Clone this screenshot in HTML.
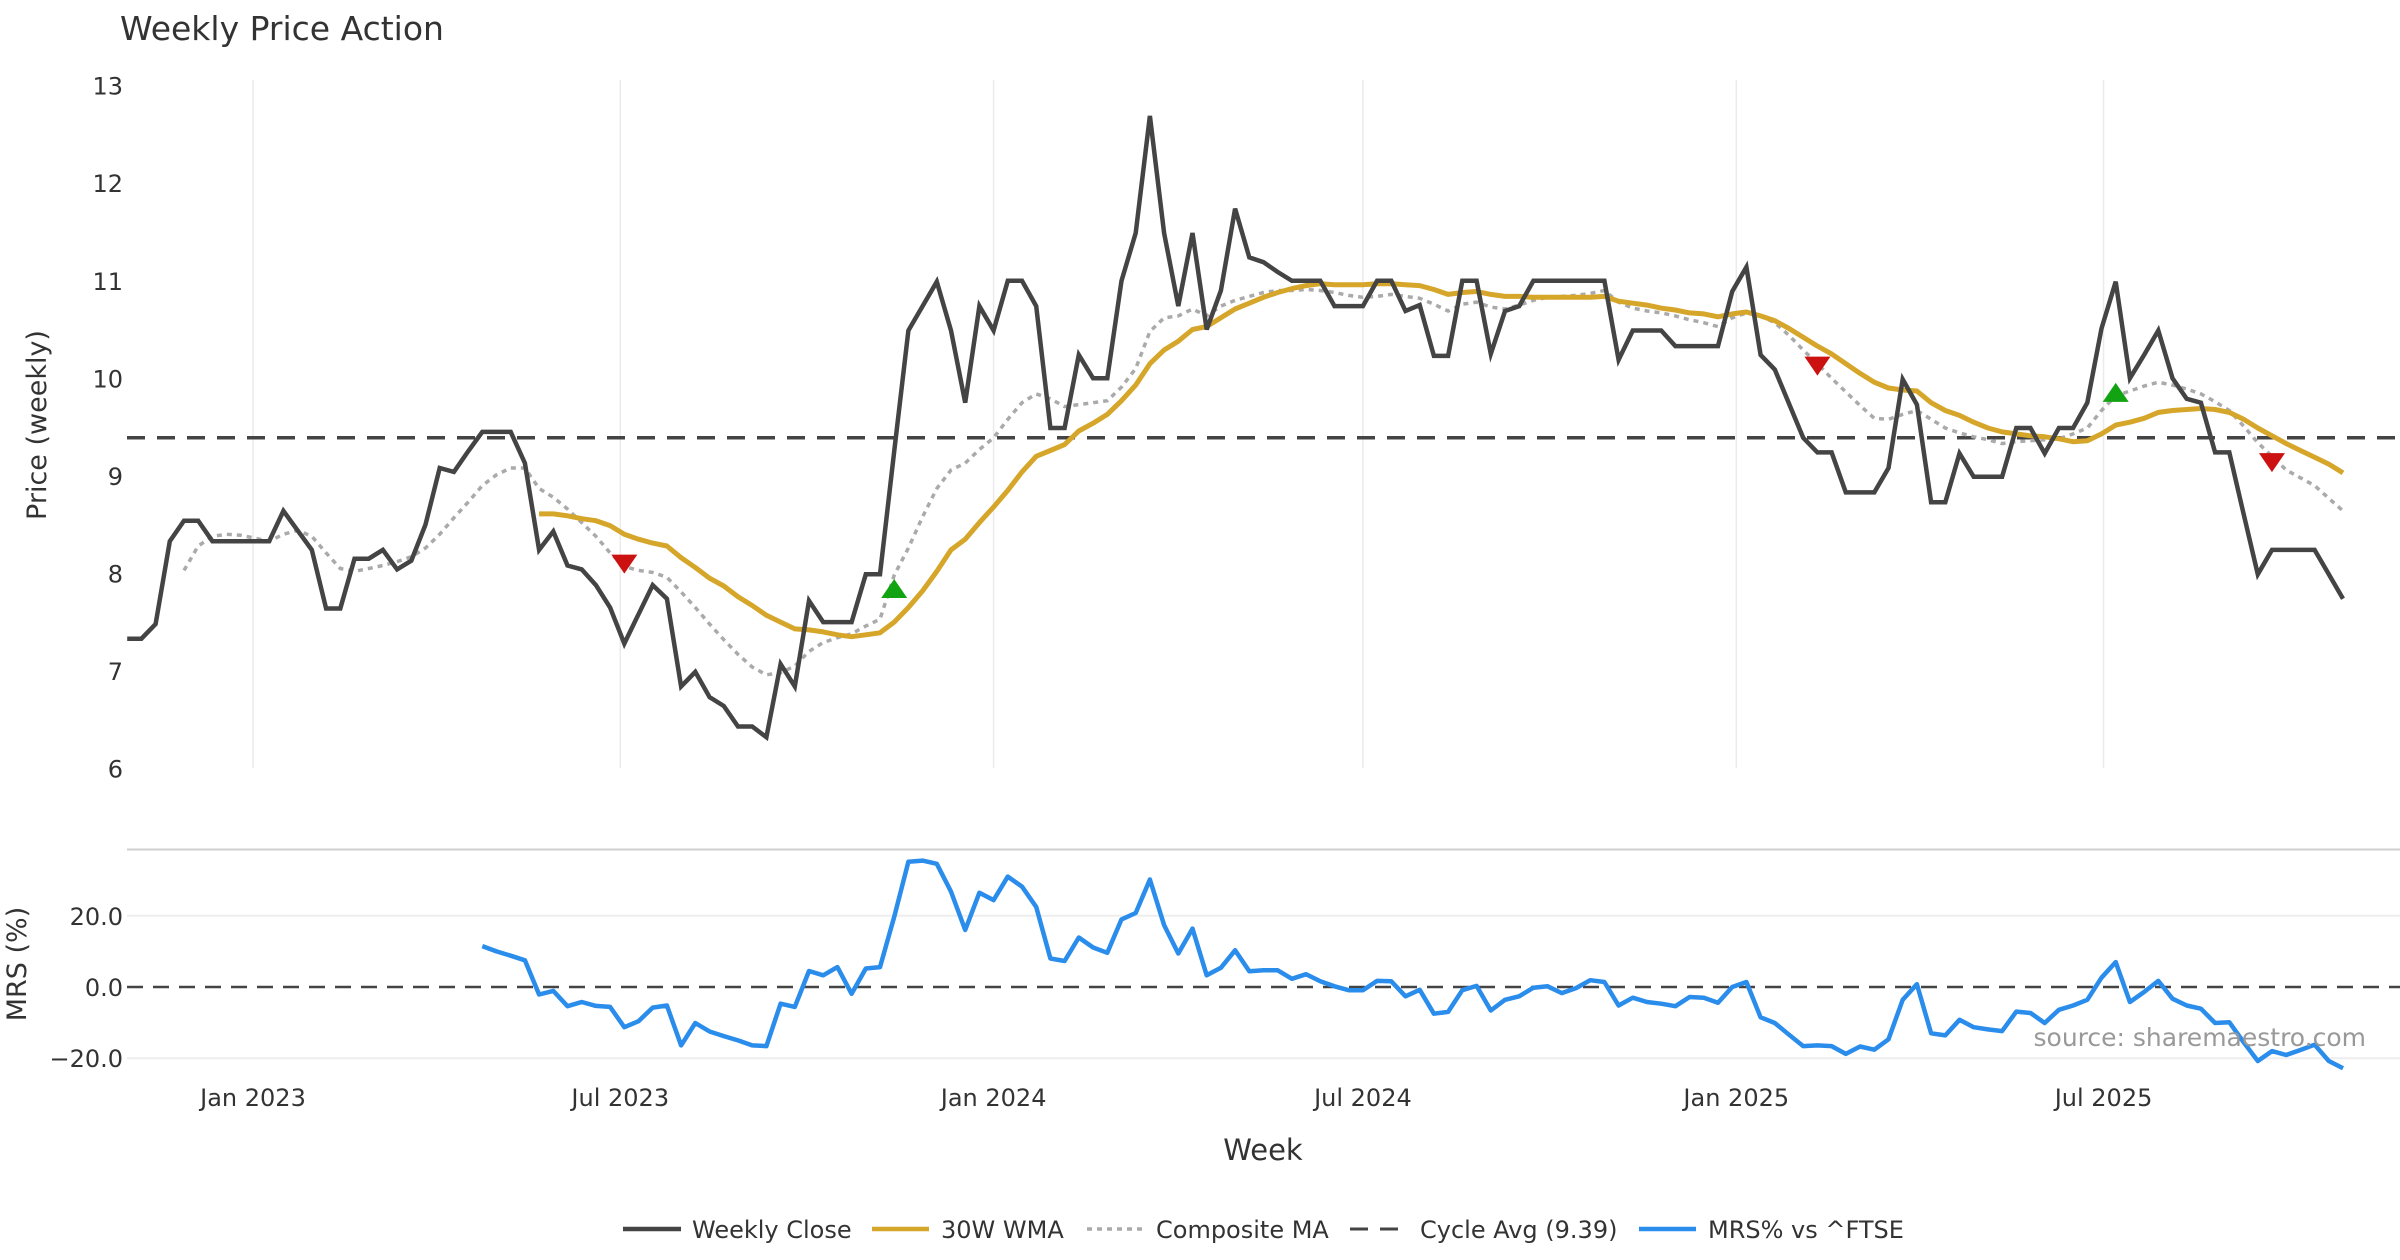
<!DOCTYPE html>
<html><head><meta charset="utf-8"><style>
html,body{margin:0;padding:0;background:#fff;}
svg{display:block;font-family:"DejaVu Sans","Liberation Sans",sans-serif;}
</style></head><body>
<svg id="chart" xmlns="http://www.w3.org/2000/svg" width="2400" height="1260" viewBox="0 0 2400 1260">
<rect width="2400" height="1260" fill="#fff"/>
<text x="120" y="40" font-size="33" fill="#333">Weekly Price Action</text>
<g id="grid"></g>
<g id="price"></g>
<g id="mrs"></g>
<g id="axes"></g>
<text x="46" y="425" font-size="27" fill="#333" text-anchor="middle" transform="rotate(-90 46 425)">Price (weekly)</text>
<text x="26" y="964" font-size="27" fill="#333" text-anchor="middle" transform="rotate(-90 26 964)">MRS (%)</text>
<text x="1263" y="1160" font-size="29" fill="#333" text-anchor="middle">Week</text>
<text x="2366" y="1046" font-size="25" fill="#999" text-anchor="end">source: sharemaestro.com</text>
<g font-size="24" fill="#333">
  <g><line x1="623" y1="1229" x2="681" y2="1229" stroke="#444" stroke-width="4.5"/><text x="692" y="1238">Weekly Close</text></g>
  <g><line x1="872" y1="1229" x2="929" y2="1229" stroke="#d6a62a" stroke-width="4.5"/><text x="941" y="1238">30W WMA</text></g>
  <g><line x1="1087" y1="1229" x2="1143" y2="1229" stroke="#aaa" stroke-width="3.5" stroke-dasharray="5 5"/><text x="1156" y="1238">Composite MA</text></g>
  <g><line x1="1350" y1="1229" x2="1407" y2="1229" stroke="#444" stroke-width="3" stroke-dasharray="18 12"/><text x="1420" y="1238">Cycle Avg (9.39)</text></g>
  <g><line x1="1639" y1="1229" x2="1696" y2="1229" stroke="#2a8ceb" stroke-width="4.5"/><text x="1708" y="1238">MRS% vs ^FTSE</text></g>
</g>
</svg>
<script>
const startDate = "2022-10-31";
const closeVals = [7.33,7.33,7.48,8.33,8.54,8.54,8.33,8.33,8.33,8.33,
8.33,8.64,8.44,8.24,7.64,7.64,8.15,8.15,8.24,8.04,
8.13,8.50,9.08,9.04,9.25,9.45,9.45,9.45,9.13,8.24,
8.43,8.08,8.04,7.88,7.65,7.28,7.58,7.88,7.74,6.84,
6.99,6.73,6.64,6.43,6.43,6.32,7.07,6.84,7.72,7.50,
7.50,7.50,7.99,7.99,9.25,10.49,10.74,10.99,10.49,9.75,
10.74,10.49,11.0,11.0,10.74,9.49,9.49,10.24,10.0,10.0,
11.0,11.49,12.69,11.49,10.74,11.49,10.5,10.9,11.74,11.24,
11.19,11.09,11.0,11.0,11.0,10.74,10.74,10.74,11.0,11.0,
10.69,10.75,10.23,10.23,11.0,11.0,10.25,10.69,10.74,11.0,
11.0,11.0,11.0,11.0,11.0,10.19,10.49,10.49,10.49,10.33,
10.33,10.33,10.33,10.89,11.14,10.24,10.09,9.74,9.39,9.24,
9.24,8.83,8.83,8.83,9.08,9.99,9.73,8.73,8.73,9.23,
8.99,8.99,8.99,9.49,9.49,9.23,9.49,9.49,9.75,10.51,
10.99,10.0,10.24,10.49,10.0,9.79,9.75,9.24,9.24,8.61,
7.99,8.24,8.24,8.24,8.24,7.99,7.74];
const wmaStart = 29;
const wmaVals = [8.61,8.61,8.59,8.56,8.54,8.49,8.40,8.35,8.31,8.28,8.16,
8.06,7.95,7.87,7.76,7.67,7.57,7.50,7.43,7.42,7.40,
7.37,7.35,7.37,7.39,7.50,7.65,7.82,
8.02,8.24,8.35,8.52,8.68,8.85,9.04,9.20,9.26,9.32,9.46,9.54,9.63,
9.77,9.93,10.15,10.29,10.38,10.50,10.53,10.62,10.71,10.77,
10.83,10.88,10.92,10.95,10.97,10.96,10.96,10.96,10.97,10.97,
10.96,10.95,10.91,10.86,10.88,10.89,10.86,10.84,10.84,10.83,
10.83,10.83,10.83,10.83,10.84,10.79,10.77,10.75,10.72,10.70,
10.67,10.66,10.63,10.66,10.68,10.64,10.59,10.51,10.42,10.33,
10.25,10.15,10.05,9.96,9.90,9.88,9.87,9.75,9.67,9.62,
9.55,9.49,9.45,9.43,9.41,9.40,9.38,9.35,9.36,9.43,
9.52,9.55,9.59,9.65,9.67,9.68,9.69,9.68,9.65,9.58,
9.49,9.41,9.33,9.26,9.19,9.12,9.03];
const compStart = 4;
const compVals = [8.03,8.28,8.38,8.40,8.39,8.36,8.33,8.40,8.44,8.38,
8.21,8.05,8.02,8.05,8.08,8.12,8.17,8.26,8.40,8.57,
8.73,8.90,9.01,9.08,9.08,8.87,8.78,8.66,8.52,8.38,
8.21,8.07,8.03,8.01,7.96,7.81,7.65,7.48,7.32,7.17,
7.04,6.96,6.98,7.05,7.20,7.29,7.34,7.38,7.46,7.53,
7.98,8.26,8.58,8.87,9.06,9.13,9.27,9.39,9.58,9.75,
9.84,9.79,9.71,9.73,9.75,9.77,9.91,10.10,10.48,10.62,
10.64,10.71,10.64,10.74,10.80,10.84,10.88,10.90,10.90,10.91,
10.90,10.88,10.85,10.83,10.84,10.86,10.84,10.82,10.76,10.69,
10.76,10.78,10.73,10.71,10.75,10.80,10.83,10.84,10.85,10.87,
10.90,10.78,10.72,10.69,10.67,10.64,10.60,10.57,10.53,10.62,
10.67,10.64,10.57,10.44,10.29,10.15,10.00,9.86,9.72,9.59,
9.58,9.63,9.67,9.58,9.49,9.44,9.40,9.37,9.33,9.35,
9.36,9.37,9.38,9.43,9.49,9.67,9.82,9.87,9.92,9.96,
9.93,9.89,9.84,9.76,9.67,9.51,9.34,9.20,9.06,8.98,
8.90,8.77,8.64];
const mrsStart = 25;
const mrsVals = [11.5,10.0,8.8,7.5,-2.1,-1.1,-5.4,-4.2,-5.3,-5.6,
-11.3,-9.6,-5.8,-5.2,-16.4,-10.1,-12.5,-13.8,-15.0,-16.4,
-16.6,-4.7,-5.6,4.5,3.3,5.6,-1.9,5.2,5.6,19.7,
35.2,35.5,34.6,26.8,16.0,26.5,24.4,31.0,28.2,22.5,
8.0,7.3,13.9,11.1,9.6,19.0,20.8,30.2,17.4,9.4,
16.4,3.3,5.4,10.3,4.4,4.7,4.7,2.3,3.6,1.6,
0.2,-0.9,-0.9,1.7,1.6,-2.6,-0.8,-7.5,-7.0,-0.9,
0.3,-6.6,-3.6,-2.6,-0.2,0.2,-1.7,-0.3,1.9,1.4,
-5.2,-3.0,-4.2,-4.7,-5.4,-2.8,-3.0,-4.4,0,1.4,
-8.5,-10.1,-13.4,-16.6,-16.4,-16.6,-18.8,-16.7,-17.6,-14.7,
-3.6,0.8,-13.0,-13.6,-9.2,-11.3,-11.9,-12.4,-6.9,-7.3,
-10.1,-6.4,-5.2,-3.6,2.6,7.0,-4.2,-1.4,1.7,-3.3,
-5.2,-6.1,-10.1,-9.9,-15.5,-20.8,-18.0,-19.1,-17.7,-16.2,
-20.8,-22.8];
const cycleAvg = 9.39;
const markerIdx = [35,54,119,140,151];
const markerVal = [8.10,7.84,10.13,9.85,9.14];
const markerDir = ["down","up","down","up","down"];
const priceTicks = [6,7,8,9,10,11,12,13];
const mrsTicks = [-20,0,20];
const mrsTickLabels = ["\u221220.0","0.0","20.0"];
const xTickDates = ["2023-01-01","2023-07-01","2024-01-01","2024-07-01","2025-01-01","2025-07-01"];
const xTickLabels = ["Jan 2023","Jul 2023","Jan 2024","Jul 2024","Jan 2025","Jul 2025"];

const NS="http://www.w3.org/2000/svg";
const t0 = Date.parse(startDate);
const PX_PER_DAY = 2.0291, X0 = 127.2;
function xDate(s){return X0 + (Date.parse(s)-t0)/86400000*PX_PER_DAY;}
function xIdx(i){return X0 + i*7*PX_PER_DAY;}
function yP(v){return 85.7 + (13-v)*97.53;}
function yM(v){return 987 - v*3.56;}
function mk(tag,attrs,parent){const e=document.createElementNS(NS,tag);for(const k in attrs)e.setAttribute(k,attrs[k]);parent.appendChild(e);return e;}
const grid=document.getElementById('grid'), price=document.getElementById('price'), mrs=document.getElementById('mrs'), axes=document.getElementById('axes');

xTickDates.forEach((d,k)=>{
  const x=xDate(d);
  const g=mk('line',{x1:x,y1:80,x2:x,y2:768,stroke:'#ebebeb','stroke-width':1.5},grid);
  
  
  const t=mk('text',{x:x,y:1106,'font-size':24,fill:'#333','text-anchor':'middle'},axes);
  t.textContent=xTickLabels[k];
  
  
});
priceTicks.forEach(v=>{
  const t=mk('text',{x:123,y:yP(v)+9,'font-size':24,fill:'#333','text-anchor':'end'},axes);
  t.textContent=String(v);
  
  
});
const sep=mk('line',{x1:127,y1:849.5,x2:2400,y2:849.5,stroke:'#cfcfcf','stroke-width':2},grid);


mrsTicks.forEach((v,k)=>{
  if(v!==0){
    const g=mk('line',{x1:127,y1:yM(v),x2:2400,y2:yM(v),stroke:'#eeeeee','stroke-width':2},grid);
    
    
  }
  const t=mk('text',{x:123,y:yM(v)+9,'font-size':24,fill:'#333','text-anchor':'end'},axes);
  t.textContent=mrsTickLabels[k];
  
  
});

function pathFrom(vals,start,yf){return vals.map((v,j)=>(j?'L':'M')+xIdx(start+j).toFixed(1)+' '+yf(v).toFixed(1)).join(' ');}

const ca=mk('line',{x1:127,y1:yP(cycleAvg),x2:2400,y2:yP(cycleAvg),stroke:'#444','stroke-width':3.5,'stroke-dasharray':'18 12'},price);


const pc=mk('path',{d:pathFrom(compVals,compStart,yP),fill:'none',stroke:'#aaa','stroke-width':3.5,'stroke-dasharray':'5 5'},price);


const pw=mk('path',{d:pathFrom(wmaVals,wmaStart,yP),fill:'none',stroke:'#d6a62a','stroke-width':5,'stroke-linejoin':'round'},price);


const pcl=mk('path',{d:pathFrom(closeVals,0,yP),fill:'none',stroke:'#444','stroke-width':4.5,'stroke-linejoin':'miter'},price);


markerIdx.forEach((i,k)=>{
  const x=xIdx(i), y=yP(markerVal[k]);
  const pts = markerDir[k]==='down' ? `${x-13},${y-9} ${x+13},${y-9} ${x},${y+10}` : `${x-13},${y+9} ${x+13},${y+9} ${x},${y-10}`;
  const m=mk('polygon',{points:pts,fill:markerDir[k]==='down'?'#cc1111':'#11a311'},price);
  
  
});
const mz=mk('line',{x1:127,y1:yM(0),x2:2400,y2:yM(0),stroke:'#444','stroke-width':2.5,'stroke-dasharray':'16 10'},mrs);


const ml=mk('path',{d:pathFrom(mrsVals,mrsStart,yM),fill:'none',stroke:'#2a8ceb','stroke-width':4.5,'stroke-linejoin':'round'},mrs);


</script>
</body></html>
